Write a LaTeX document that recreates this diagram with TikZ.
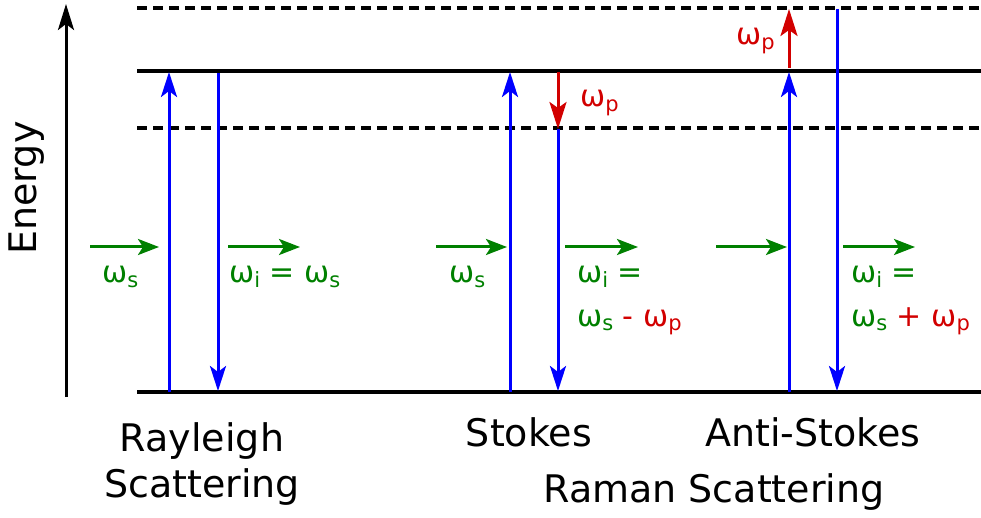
\documentclass[tikz,border=0pt]{standalone}
\usepackage{fontspec}
\setmainfont{DejaVu Sans}
\usetikzlibrary{arrows.meta}
\definecolor{mygreen}{RGB}{0,128,0}
\definecolor{myred}{RGB}{210,0,0}
\newcommand\lowsub[1]{\raisebox{-0.3ex}{\fontsize{21}{21}\selectfont #1}}
\newcommand\om[1]{ω\lowsub{#1}}
\tikzset{
  level/.style={line width=3.6pt, black},
  virt/.style={line width=3.6pt, black, dash pattern=on 10pt off 6pt},
  trans/.style={line width=3pt, blue, -{Stealth[length=25pt,width=16pt,inset=6pt]}},
  phonon/.style={line width=3pt, myred, -{Stealth[length=27pt,width=17pt,inset=6pt]}},
  photon/.style={line width=3pt, mygreen, -{Stealth[length=21pt,width=16pt,inset=5pt]}},
  lbl/.style={font=\fontsize{30}{34}\selectfont, text=mygreen, inner sep=0pt, anchor=base west},
  big/.style={font=\fontsize{38}{42}\selectfont, inner sep=0pt, anchor=base},
}
\begin{document}
\begin{tikzpicture}[x=1pt,y=-1pt]
\useasboundingbox (0,0) rectangle (981,518);
% axis
\coordinate (ax0) at (66,397);
\coordinate (ax1) at (66,4);
\draw[line width=3pt, -{Stealth[length=26pt,width=16pt,inset=6pt]}] (ax0) -- (ax1);
\node[big, rotate=90, anchor=center] (energy) at (27,188) {Energy};
% levels
\coordinate (t0) at (137,8);   \coordinate (t1) at (981,8);
\coordinate (s0) at (137,71);  \coordinate (s1) at (981,71);
\coordinate (v0) at (137,128); \coordinate (v1) at (981,128);
\coordinate (g0) at (137,392); \coordinate (g1) at (981,392);
\draw[virt] (t0) -- (t1);
\draw[level] (s0) -- (s1);
\draw[virt] (v0) -- (v1);
\draw[level] (g0) -- (g1);
% Rayleigh
\coordinate (r1a) at (169,392); \coordinate (r1b) at (169,72);
\coordinate (r2a) at (218,73);  \coordinate (r2b) at (218,391);
\draw[trans] (r1a) -- (r1b);
\draw[trans] (r2a) -- (r2b);
% Stokes
\coordinate (k1a) at (510,392); \coordinate (k1b) at (510,72);
\coordinate (k2a) at (558,72);  \coordinate (k2b) at (558,129);
\coordinate (k3b) at (558,391);
\draw[trans] (k1a) -- (k1b);
\draw[phonon] (k2a) -- (k2b);
\draw[trans] (k2b) -- (k3b);
% Anti-Stokes
\coordinate (a1a) at (789,392); \coordinate (a1b) at (789,72);
\coordinate (a2a) at (789,68);  \coordinate (a2b) at (789,9);
\coordinate (a3a) at (837,9);   \coordinate (a3b) at (837,391);
\draw[trans] (a1a) -- (a1b);
\draw[phonon] (a2a) -- (a2b);
\draw[trans] (a3a) -- (a3b);
% photons
\coordinate (p1a) at (90,247);  \coordinate (p1b) at (159,247);
\coordinate (p2a) at (228,247); \coordinate (p2b) at (300,247);
\coordinate (p3a) at (436,247); \coordinate (p3b) at (507,247);
\coordinate (p4a) at (565,247); \coordinate (p4b) at (638,247);
\coordinate (p5a) at (716,247); \coordinate (p5b) at (787,247);
\coordinate (p6a) at (843,247); \coordinate (p6b) at (915,247);
\foreach \i in {1,...,6} \draw[photon] (p\i a) -- (p\i b);
% labels
\node[lbl] (l1) at (102,283) {\om{s}};
\node[lbl] (l2) at (229,283) {\om{i} = \om{s}};
\node[lbl] (l3) at (449,283) {\om{s}};
\node[lbl] (l4) at (577,283) {\om{i} =};
\node[lbl] (l5) at (577,326) {\om{s} \textcolor{myred}{- \om{p}}};
\node[lbl] (l6) at (851,283) {\om{i} =};
\node[lbl] (l7) at (851,326) {\om{s} \textcolor{myred}{+ \om{p}}};
\node[lbl, text=myred] (l8) at (580,107) {\om{p}};
\node[lbl, text=myred] (l9) at (736,45) {\om{p}};
% titles
\node[big] (ray1) at (202,451) {Rayleigh};
\node[big] (ray2) at (202,497) {Scattering};
\node[big] (sto) at (529,446) {Stokes};
\node[big] (ast) at (813,446) {Anti-Stokes};
\node[big] (ram) at (714,502) {Raman Scattering};
\end{tikzpicture}
\end{document}
